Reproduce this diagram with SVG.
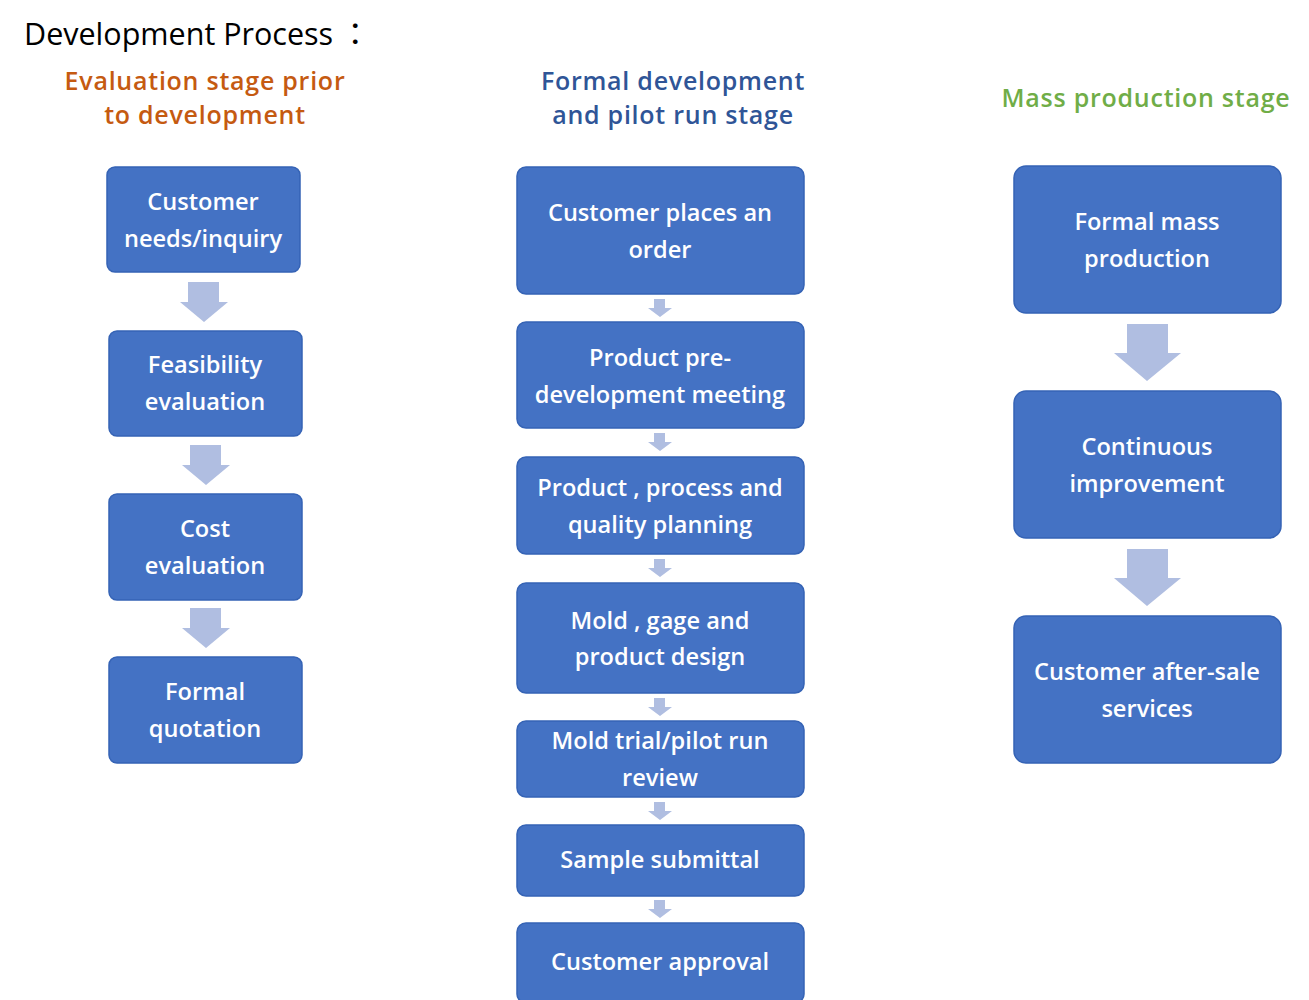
<svg xmlns="http://www.w3.org/2000/svg" width="1309" height="1000" viewBox="0 0 1309 1000">
<style>
.bx{fill:#4472C4;stroke:#3563B5;stroke-width:1.5}
.bt{font-family:"Open Sans","Noto Sans",sans-serif;font-size:23.6px;font-weight:600;fill:#FFFFFF;text-anchor:middle}
.ar{fill:#B0BEE1}
.hd{font-family:"Open Sans","Noto Sans",sans-serif;font-size:25px;font-weight:600;letter-spacing:0.75px;text-anchor:middle}
</style>
<rect width="1309" height="1000" fill="#FFFFFF"/>
<text x="24" y="45" font-family="'Open Sans','Noto Sans',sans-serif" font-size="30.5" fill="#000000">Development Process<tspan font-family="'Noto Sans CJK TC',sans-serif"> ：</tspan></text>
<g id="hdr1"><text class="hd" fill="#C55A11"><tspan x="205" y="89.5">Evaluation stage prior</tspan><tspan x="205" y="124">to development</tspan></text></g>
<g id="hdr2"><text class="hd" fill="#2F5597"><tspan x="673" y="89.5">Formal development</tspan><tspan x="673" y="124">and pilot run stage</tspan></text></g>
<g id="hdr3"><text class="hd" fill="#70AD47"><tspan x="1146" y="107">Mass production stage</tspan></text></g>

<g id="connectors">
<path class="ar" d="M188 282H219V302H228L204 322L180 302H188Z"/>
<path class="ar" d="M190 445H221V465H230L206 485L182 465H190Z"/>
<path class="ar" d="M190 608H221V628H230L206 648L182 628H190Z"/>
<path class="ar" d="M654 299H665V308H672L660 317L648 308H654Z"/>
<path class="ar" d="M654 433H665V442H672L660 451L648 442H654Z"/>
<path class="ar" d="M654 559H665V568H672L660 577L648 568H654Z"/>
<path class="ar" d="M654 698H665V707H672L660 716L648 707H654Z"/>
<path class="ar" d="M654 802H665V811H672L660 820L648 811H654Z"/>
<path class="ar" d="M654 900H665V909H672L660 918L648 909H654Z"/>
<path class="ar" d="M1127 324H1168V353H1181L1147 381L1114 353H1127Z"/>
<path class="ar" d="M1127 549H1168V578H1181L1147 606L1114 578H1127Z"/>
</g>

<g id="n1"><rect class="bx" x="107" y="167" width="193" height="105" rx="8"/><text class="bt"><tspan x="203" y="210">Customer</tspan><tspan x="203" y="247">needs/inquiry</tspan></text></g>
<g id="n2"><rect class="bx" x="109" y="331" width="193" height="105" rx="8"/><text class="bt"><tspan x="205" y="373">Feasibility</tspan><tspan x="205" y="410">evaluation</tspan></text></g>
<g id="n3"><rect class="bx" x="109" y="494" width="193" height="106" rx="8"/><text class="bt"><tspan x="205" y="537">Cost</tspan><tspan x="205" y="574">evaluation</tspan></text></g>
<g id="n4"><rect class="bx" x="109" y="657" width="193" height="106" rx="8"/><text class="bt"><tspan x="205" y="700">Formal</tspan><tspan x="205" y="737">quotation</tspan></text></g>

<g id="m1"><rect class="bx" x="517" y="167" width="287" height="127" rx="9"/><text class="bt"><tspan x="660" y="221">Customer places an</tspan><tspan x="660" y="258">order</tspan></text></g>
<g id="m2"><rect class="bx" x="517" y="322" width="287" height="106" rx="9"/><text class="bt"><tspan x="660" y="366">Product pre-</tspan><tspan x="660" y="403">development meeting</tspan></text></g>
<g id="m3"><rect class="bx" x="517" y="457" width="287" height="97" rx="9"/><text class="bt"><tspan x="660" y="496">Product , process and</tspan><tspan x="660" y="533">quality planning</tspan></text></g>
<g id="m4"><rect class="bx" x="517" y="583" width="287" height="110" rx="9"/><text class="bt"><tspan x="660" y="629">Mold , gage and</tspan><tspan x="660" y="665">product design</tspan></text></g>
<g id="m5"><rect class="bx" x="517" y="721" width="287" height="76" rx="9"/><text class="bt"><tspan x="660" y="749">Mold trial/pilot run</tspan><tspan x="660" y="786">review</tspan></text></g>
<g id="m6"><rect class="bx" x="517" y="825" width="287" height="71" rx="9"/><text class="bt"><tspan x="660" y="868">Sample submittal</tspan></text></g>
<g id="m7"><rect class="bx" x="517" y="923" width="287" height="80" rx="9"/><text class="bt"><tspan x="660" y="970">Customer approval</tspan></text></g>

<g id="p1"><rect class="bx" x="1014" y="166" width="267" height="147" rx="12"/><text class="bt"><tspan x="1147" y="230">Formal mass</tspan><tspan x="1147" y="267">production</tspan></text></g>
<g id="p2"><rect class="bx" x="1014" y="391" width="267" height="147" rx="12"/><text class="bt"><tspan x="1147" y="455">Continuous</tspan><tspan x="1147" y="492">improvement</tspan></text></g>
<g id="p3"><rect class="bx" x="1014" y="616" width="267" height="147" rx="12"/><text class="bt"><tspan x="1147" y="680">Customer after-sale</tspan><tspan x="1147" y="717">services</tspan></text></g>
</svg>
